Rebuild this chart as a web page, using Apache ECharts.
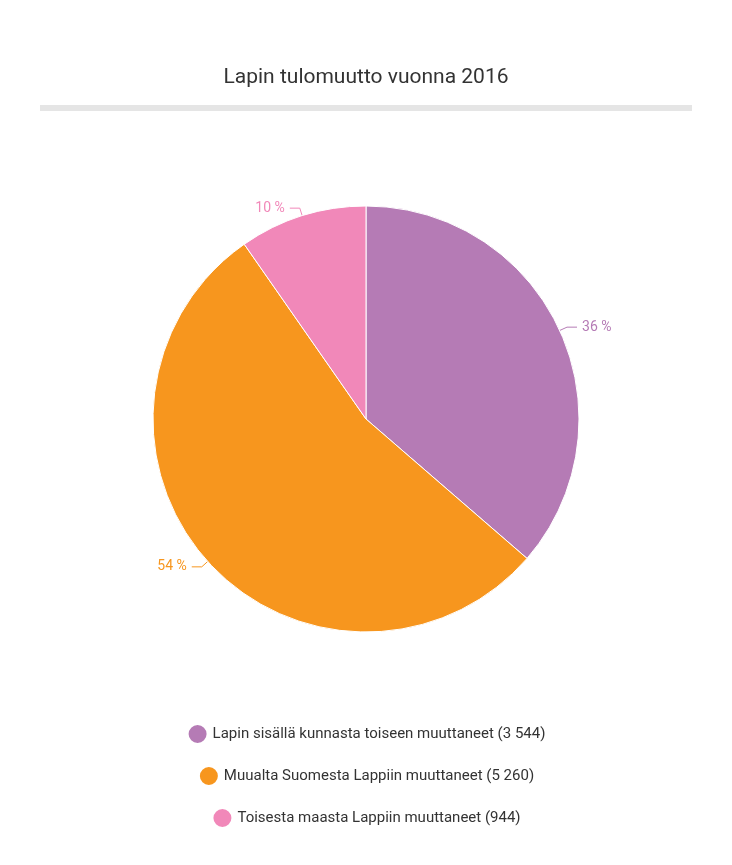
<!DOCTYPE html>
<html><head><meta charset="utf-8">
<script src="https://cdn.jsdelivr.net/npm/echarts@6/dist/echarts.min.js"></script>
<style>html,body{margin:0;padding:0;background:#fff}#c{width:732px;height:865px}</style>
</head><body><div id="c"></div>
<script>
const categories = ['Lapin sisällä kunnasta toiseen muuttaneet', 'Muualta Suomesta Lappiin muuttaneet', 'Toisesta maasta Lappiin muuttaneet'];
const values = [3544, 5260, 944];
const colors = ['#b57bb5', '#f7961e', '#f188b9'];
const total = values.reduce((a, b) => a + b, 0);
const fmt = v => String(v).replace(/\B(?=(\d{3})+(?!\d))/g, ' ');
const chart = echarts.init(document.getElementById('c'));
const legendTops = [718, 760, 802];
chart.setOption({
  textStyle: { fontFamily: 'Roboto' },
  title: { text: 'Lapin tulomuutto vuonna 2016', left: 'center', top: 62,
    textStyle: { fontSize: 21, fontWeight: 'normal', color: '#333', fontFamily: 'Roboto' } },
  graphic: [{ type: 'rect', shape: { x: 40, y: 105, width: 652, height: 6 }, style: { fill: '#e5e5e5' } }],
  legend: categories.map((c, i) => ({
    data: [c], left: 'center', top: legendTops[i], icon: 'circle', itemWidth: 20, itemHeight: 20,
    itemGap: 10, textStyle: { fontSize: 15, color: '#333', fontFamily: 'Roboto' },
    formatter: n => n + ' (' + fmt(values[categories.indexOf(n)]) + ')', selectedMode: false
  })),
  series: [{
    type: 'pie', center: [366, 419], radius: 213, startAngle: 90, clockwise: true,
    data: categories.map((c, i) => ({ name: c, value: values[i], itemStyle: { color: colors[i] },
      label: { color: colors[i] }, labelLine: { lineStyle: { color: colors[i] } } })),
    itemStyle: { borderColor: '#fff', borderWidth: 1 },
    label: { formatter: p => Math.round(p.value / total * 100) + ' %', fontSize: 14, fontFamily: 'Roboto' },
    labelLine: { length: 8, length2: 10 },
    emphasis: { disabled: true }
  }]
});
</script></body></html>
